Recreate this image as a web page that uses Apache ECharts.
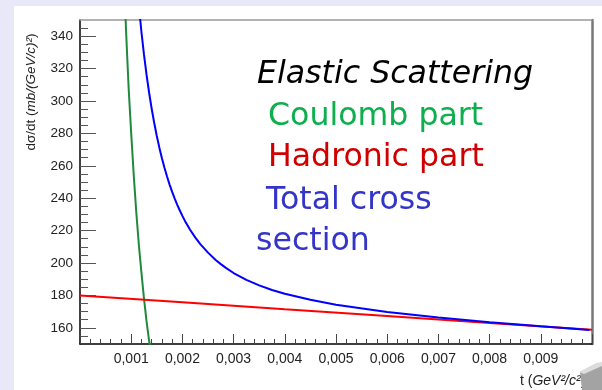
<!DOCTYPE html>
<html>
<head>
<meta charset="utf-8">
<script src="https://cdn.jsdelivr.net/npm/echarts@6/dist/echarts.min.js"></script>
<style>
html,body{margin:0;padding:0;background:#e8e8f8;}
#chart{width:602px;height:390px;}
</style>
</head>
<body>
<div id="chart"></div>
<script>
// ---- data ----
var coulombT = [0.00086, 0.00090, 0.00095, 0.00100, 0.00105, 0.00110, 0.00115, 0.00120, 0.00125, 0.00130, 0.00135, 0.00140];
var coulombY = [376, 343, 308, 280, 254, 231, 211, 194, 178, 164, 152, 142];

var hadronT = [0, 0.002, 0.004, 0.006, 0.008, 0.010];
var hadronY = [180, 175.8, 171.5, 167.3, 163.0, 158.8];

var totalT = [0.00110, 0.00115, 0.00120, 0.00125, 0.00130, 0.00135, 0.00140, 0.00145, 0.00150, 0.00155, 0.00160, 0.00165, 0.00170, 0.00175, 0.00180, 0.00185, 0.00190, 0.00195, 0.00200, 0.00205, 0.00215, 0.00225, 0.00235, 0.00250, 0.00265, 0.00275, 0.00285, 0.00300, 0.00325, 0.00350, 0.00375, 0.00400, 0.00450, 0.00500, 0.00600, 0.00700, 0.00800, 0.00900, 0.00995];
var totalY = [376.8, 358.6, 342.6, 328.6, 316.1, 305.1, 295.2, 286.4, 278.4, 271.2, 264.7, 258.8, 253.4, 248.4, 243.9, 239.8, 235.9, 232.4, 229.1, 226.0, 220.5, 215.8, 211.7, 206.4, 201.9, 199.3, 197.0, 193.8, 189.6, 186.2, 183.3, 181.0, 177.3, 174.2, 169.8, 166.4, 163.5, 160.9, 158.6];

var yMajorTicks = [160, 180, 200, 220, 240, 260, 280, 300, 320, 340];
var yMinorTicks = [155, 160, 165, 170, 175, 180, 185, 190, 195, 200, 205, 210, 215, 220, 225, 230, 235, 240, 245, 250, 255, 260, 265, 270, 275, 280, 285, 290, 295, 300, 305, 310, 315, 320, 325, 330, 335, 340, 345];

var titleLines = ['Elastic Scattering', 'Coulomb part', 'Hadronic part', 'Total cross', 'section'];

function zip(a, b) { return a.map(function (v, i) { return [v, b[i]]; }); }

var chart = echarts.init(document.getElementById('chart'), null, {renderer: 'canvas'});
var labelFont = 'Liberation Sans, Arial, sans-serif';
var bigFont = 'DejaVu Sans, Verdana, sans-serif';

chart.setOption({
  backgroundColor: '#e8e8f8',
  animation: false,
  grid: {left: 80, right: 10, top: 20, bottom: 46, containLabel: false},
  xAxis: [{
    type: 'value', min: 0, max: 0.01, interval: 0.001, position: 'bottom',
    axisLine: {show: true, onZero: false, lineStyle: {color: '#000', width: 1.5}},
    axisTick: {show: true, inside: true, length: 10, lineStyle: {color: '#444', width: 1}},
    minorTick: {show: true, splitNumber: 5, length: 5, lineStyle: {color: '#444', width: 1}},
    axisLabel: {
      showMinLabel: false, showMaxLabel: false, margin: 8,
      fontFamily: labelFont, fontSize: 14, color: '#222',
      formatter: function (v) { return v.toFixed(3).replace('.', ','); }
    },
    splitLine: {show: false}
  }, {
    type: 'value', min: 0, max: 0.01, position: 'top',
    axisLine: {show: true, onZero: false, lineStyle: {color: '#999', width: 1.5}},
    axisTick: {show: false}, axisLabel: {show: false}, splitLine: {show: false}
  }],
  yAxis: [{
    type: 'value', min: 150, max: 350, position: 'left',
    axisLine: {show: true, onZero: false, lineStyle: {color: '#000', width: 1.5}},
    axisTick: {show: true, inside: true, length: 16, customValues: yMajorTicks, lineStyle: {color: '#555', width: 1}},
    axisLabel: {customValues: yMajorTicks, margin: 7, fontFamily: labelFont, fontSize: 13.5, color: '#222'},
    splitLine: {show: false}
  }, {
    type: 'value', min: 150, max: 350, position: 'left',
    axisLine: {show: false},
    axisTick: {show: true, inside: true, length: 8, customValues: yMinorTicks, lineStyle: {color: '#555', width: 1}},
    axisLabel: {show: false}, splitLine: {show: false}
  }, {
    type: 'value', min: 150, max: 350, position: 'right',
    axisLine: {show: true, onZero: false, lineStyle: {color: '#777', width: 2.5}},
    axisTick: {show: false}, axisLabel: {show: false}, splitLine: {show: false}
  }],
  series: [{
    type: 'line', name: 'Coulomb', data: zip(coulombT, coulombY), showSymbol: false,
    lineStyle: {color: '#1f8a3c', width: 2}, clip: true, z: 3
  }, {
    type: 'line', name: 'Hadronic', data: zip(hadronT, hadronY), showSymbol: false,
    lineStyle: {color: '#ff0000', width: 2}, clip: true, z: 3
  }, {
    type: 'line', name: 'Total', data: zip(totalT, totalY), showSymbol: false,
    lineStyle: {color: '#0000ff', width: 2}, clip: true, z: 4
  }],
  graphic: {elements: [
    {type: 'rect', z: -100, silent: true, shape: {x: 14, y: 6, width: 588, height: 384}, style: {fill: '#ffffff'}},
    {type: 'text', x: 257, y: 74.3, style: {text: titleLines[0], font: 'italic 31.6px ' + bigFont, fill: '#000', verticalAlign: 'middle', align: 'left'}},
    {type: 'text', x: 268, y: 116.3, style: {text: titleLines[1], font: '31.6px ' + bigFont, fill: '#0fae4f', verticalAlign: 'middle', align: 'left'}},
    {type: 'text', x: 268, y: 157.3, style: {text: titleLines[2], font: '31.6px ' + bigFont, fill: '#d00000', verticalAlign: 'middle', align: 'left'}},
    {type: 'text', x: 266, y: 200.3, style: {text: titleLines[3], font: '31.6px ' + bigFont, fill: '#3434c8', verticalAlign: 'middle', align: 'left'}},
    {type: 'text', x: 256, y: 241.3, style: {text: titleLines[4], font: '31.6px ' + bigFont, fill: '#3434c8', verticalAlign: 'middle', align: 'left'}},
    {type: 'text', x: 31, y: 92, rotation: Math.PI / 2, style: {
      text: 'dσ/dt ({i|mb/(GeV/c)²})', fontFamily: labelFont, fontSize: 13.5, fill: '#222',
      align: 'center', verticalAlign: 'middle',
      rich: {i: {fontStyle: 'italic', fontFamily: labelFont, fontSize: 13.5, fill: '#222'}}
    }},
    {type: 'text', x: 520, y: 381, style: {
      text: 't ({i|GeV²/c²})', fontFamily: labelFont, fontSize: 14, fill: '#222',
      align: 'left', verticalAlign: 'middle',
      rich: {i: {fontStyle: 'italic', fontFamily: labelFont, fontSize: 14, fill: '#222'}}
    }},
    {type: 'polygon', z: 100, shape: {points: [[580, 372], [602, 365], [602, 390], [582, 390]]}, style: {fill: '#a3a3a3'}},
    {type: 'polygon', z: 101, shape: {points: [[579, 372], [596, 363], [602, 362], [602, 366], [584, 374]]}, style: {fill: '#dcdcdc'}}
  ]}
});
</script>
</body>
</html>
